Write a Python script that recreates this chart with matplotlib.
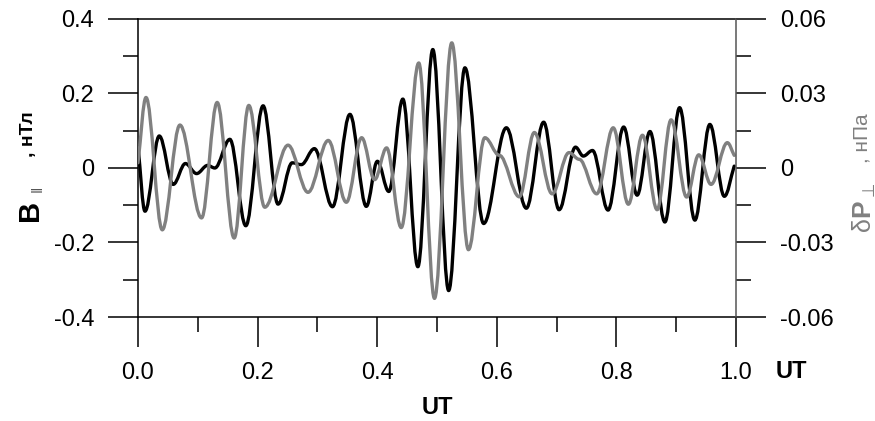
import numpy as np
import matplotlib
matplotlib.use("Agg")
import matplotlib.pyplot as plt
from matplotlib.path import Path
from matplotlib.patches import PathPatch
from matplotlib.ticker import MultipleLocator, FixedLocator, FixedFormatter

plt.rcParams['font.family'] = ['Liberation Sans', 'DejaVu Sans']

# turning points (UT fraction, value)
b_t = [0.000, 0.0117, 0.0356, 0.0589, 0.0793, 0.098, 0.1164, 0.1285, 0.1536,
       0.1803, 0.2092, 0.2342, 0.2579, 0.2731, 0.295, 0.3252, 0.3544, 0.3818,
       0.4003, 0.4194, 0.4429, 0.468, 0.493, 0.5195, 0.5467, 0.578, 0.616,
       0.6494, 0.6783, 0.7042, 0.7316, 0.7446, 0.7601, 0.786, 0.8122, 0.8347,
       0.8561, 0.8811, 0.9057, 0.9312, 0.9563, 0.9805, 0.997]
b_par = [0.058, -0.116, 0.086, -0.044, 0.012, -0.015, 0.007, 0.000, 0.077,
         -0.155, 0.167, -0.097, 0.014, 0.009, 0.052, -0.104, 0.144, -0.103,
         0.018, -0.063, 0.185, -0.265, 0.318, -0.329, 0.269, -0.149, 0.108,
         -0.108, 0.123, -0.112, 0.056, 0.032, 0.047, -0.113, 0.110, -0.073,
         0.098, -0.145, 0.162, -0.140, 0.117, -0.076, 0.005]

p_t = [0.000, 0.0134, 0.0406, 0.0701, 0.1063, 0.1324, 0.1608, 0.1853, 0.212,
       0.2509, 0.2843, 0.3182, 0.3484, 0.374, 0.3957, 0.4157, 0.4402, 0.4695,
       0.4958, 0.5247, 0.5526, 0.580, 0.6043, 0.6377, 0.6628, 0.6925, 0.7207,
       0.7379, 0.7671, 0.7947, 0.820, 0.8436, 0.8681, 0.8915, 0.9174, 0.9377,
       0.9583, 0.9855, 0.997]
dp_perp = [0.0021, 0.0284, -0.0249, 0.0173, -0.0201, 0.0264, -0.0282, 0.0252,
           -0.0158, 0.0092, -0.0098, 0.0111, -0.0138, 0.0122, -0.0047, 0.0081,
           -0.0240, 0.0423, -0.0525, 0.0504, -0.0329, 0.0122, 0.0051, -0.0116,
           0.0143, -0.0104, 0.0062, 0.0035, -0.0104, 0.0162, -0.0146, 0.0132,
           -0.0168, 0.0194, -0.0117, 0.0053, -0.0066, 0.0102, 0.0051]

x_ticks = [0.0, 0.2, 0.4, 0.6, 0.8, 1.0]
x_labels = ['0.0', '0.2', '0.4', '0.6', '0.8', '1.0']
yl_ticks = [-0.4, -0.2, 0.0, 0.2, 0.4]
yl_labels = ['-0.4', '-0.2', '0', '0.2', '0.4']
yr_ticks = [-0.06, -0.03, 0.0, 0.03, 0.06]
yr_labels = ['-0.06', '-0.03', '0', '0.03', '0.06']


def smooth_path(t, v, k=0.36):
    # bezier through the turning points, flat at each extremum
    verts = [(t[0], v[0])]
    codes = [Path.MOVETO]
    n = len(t)
    for i in range(n - 1):
        dt = t[i + 1] - t[i]
        s0 = (v[1] - v[0]) / (t[1] - t[0]) if i == 0 else 0.0
        s1 = (v[-1] - v[-2]) / (t[-1] - t[-2]) if i == n - 2 else 0.0
        verts += [(t[i] + k * dt, v[i] + s0 * k * dt),
                  (t[i + 1] - k * dt, v[i + 1] - s1 * k * dt),
                  (t[i + 1], v[i + 1])]
        codes += [Path.CURVE4] * 3
    return Path(verts, codes)


W, H = 875, 421
fig = plt.figure(figsize=(W / 100, H / 100), dpi=100)
ax = fig.add_axes([138 / W, 1 - 317 / H, 598 / W, 298 / H])
ax2 = ax.twinx()

ax.set_xlim(0, 1.0)
ax.set_ylim(-0.4, 0.4)
ax2.set_ylim(-0.06, 0.06)

ax.add_patch(PathPatch(smooth_path(b_t, b_par), fill=False, ec='black',
                       lw=2.4, capstyle='round', joinstyle='round'))
ax2.add_patch(PathPatch(smooth_path(p_t, dp_perp), fill=False, ec='#808080',
                        lw=2.4, capstyle='round', joinstyle='round'))

ax.xaxis.set_major_locator(FixedLocator(x_ticks))
ax.xaxis.set_major_formatter(FixedFormatter(x_labels))
ax.xaxis.set_minor_locator(MultipleLocator(0.1))
ax.yaxis.set_major_locator(FixedLocator(yl_ticks))
ax.yaxis.set_major_formatter(FixedFormatter(yl_labels))
ax.yaxis.set_minor_locator(MultipleLocator(0.1))
ax2.yaxis.set_major_locator(FixedLocator(yr_ticks))
ax2.yaxis.set_major_formatter(FixedFormatter(yr_labels))
ax2.yaxis.set_minor_locator(MultipleLocator(0.015))

for a in (ax, ax2):
    a.tick_params(which='major', direction='out', length=21.5, width=1.1,
                  pad=10, labelsize=17, colors='black')
    a.tick_params(which='minor', direction='out', length=10.5, width=1.1)
    for s in a.spines.values():
        s.set_linewidth(1.1)
ax.tick_params(axis='x', which='major', pad=11)
ax.spines['right'].set_visible(False)
for s in ('left', 'top', 'bottom'):
    ax2.spines[s].set_visible(False)
ax2.spines['right'].set_color('#555555')

# axis titles
ax.text(0.5, -0.305, 'UT', transform=ax.transAxes, ha='center', va='center',
        fontsize=17, fontweight='bold')
fig.text(791 / W, 1 - 372 / H, 'UT', ha='center', va='center',
         fontsize=17, fontweight='bold')

fig.text(30 / W, 1 - 210 / H, 'B', rotation=90, ha='center', va='center',
         fontsize=21, fontweight='bold')
fig.text(38 / W, 1 - 189 / H, '\u2016', rotation=90, ha='center', va='center',
         fontsize=11, color='#555555')
fig.text(29 / W, 1 - 134 / H, ', \u043d\u0422\u043b', rotation=90,
         ha='center', va='center', fontsize=14, fontweight='bold')

pc = '#808080'
fig.text(863 / W, 1 - 224 / H, '\u03b4', rotation=90, ha='center',
         va='center', fontsize=18, color=pc)
fig.text(862 / W, 1 - 208 / H, 'P', rotation=90, ha='center', va='center',
         fontsize=19, fontweight='bold', color=pc)
fig.text(869 / W, 1 - 189 / H, '\u22a5', rotation=90, ha='center',
         va='center', fontsize=12, color=pc)
fig.text(862 / W, 1 - 138 / H, ', \u043d\u041f\u0430', rotation=90,
         ha='center', va='center', fontsize=15, color=pc)

fig.savefig('out.png', dpi=100)
